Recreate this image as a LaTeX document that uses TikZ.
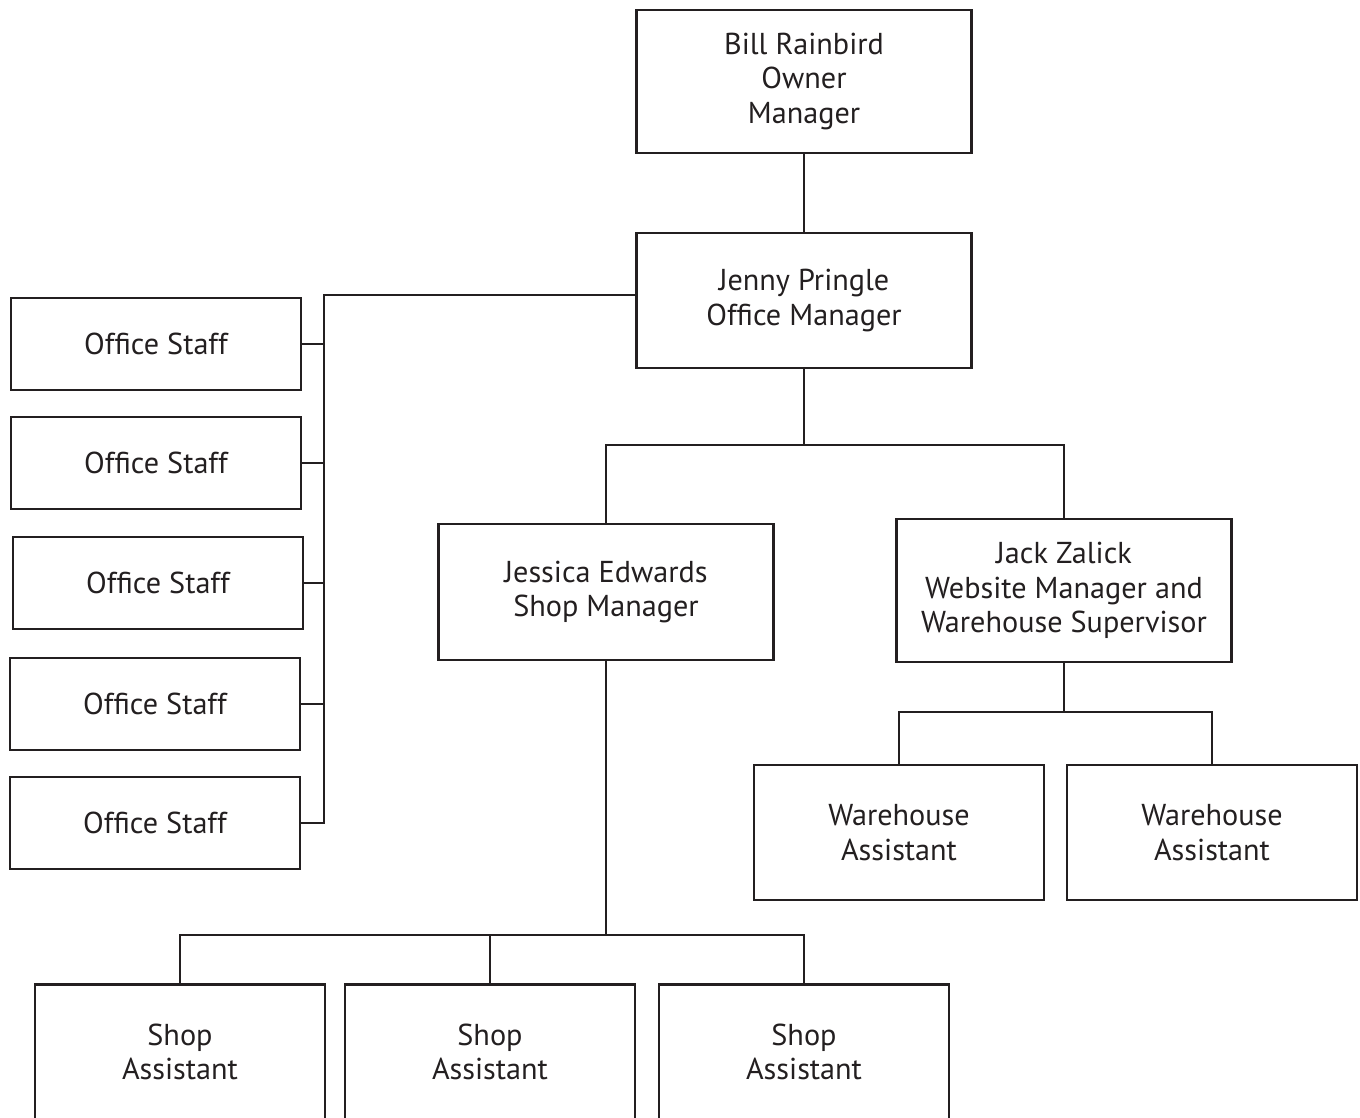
\documentclass[tikz,border=0pt]{standalone}
\usepackage{fontspec}
\setmainfont{PT Sans}
\definecolor{ink}{HTML}{231F20}
\tikzset{
  box/.style={draw=ink,line width=1.4pt,align=center,inner sep=0pt,text=ink,
    font=\fontsize{17.2}{19.8}\selectfont},
  wide/.style={box,minimum width=6.7cm},
  narrow/.style={box,minimum width=5.8cm},
  link/.style={draw=ink,line width=1.4pt},
}
\begin{document}
\begin{tikzpicture}[x=0.02cm,y=-0.02cm]
    \clip (0,0) rectangle (1360,1118);
    % managers ==============================================
    \node[wide,minimum height=2.86cm] (Bill)    at (804,81.5)  {Bill Rainbird\\Owner\\Manager};
    \node[wide,minimum height=2.7cm]  (Jenny)   at (804,300.5) {Jenny Pringle\\Office Manager};
    \node[wide,minimum height=2.72cm] (Jessica) at (606,592)   {Jessica Edwards\\Shop Manager};
    \node[wide,minimum height=2.86cm] (Jack)    at (1064,590.5) {Jack Zalick\\Website Manager and\\Warehouse Supervisor};
    % office staff ==========================================
    \node[narrow,minimum height=1.84cm] (OS1) at (156,344) {Office Staff};
    \node[narrow,minimum height=1.84cm] (OS2) at (156,463) {Office Staff};
    \node[narrow,minimum height=1.84cm] (OS3) at (158,583) {Office Staff};
    \node[narrow,minimum height=1.84cm] (OS4) at (155,704) {Office Staff};
    \node[narrow,minimum height=1.84cm] (OS5) at (155,823) {Office Staff};
    % warehouse and shop =====================================
    \node[narrow,minimum height=2.7cm] (WA1) at (899,832.5)  {Warehouse\\Assistant};
    \node[narrow,minimum height=2.7cm] (WA2) at (1212,832.5) {Warehouse\\Assistant};
    \node[narrow,minimum height=2.7cm] (SA1) at (180,1052) {Shop\\Assistant};
    \node[narrow,minimum height=2.7cm] (SA2) at (490,1052) {Shop\\Assistant};
    \node[narrow,minimum height=2.7cm] (SA3) at (804,1052) {Shop\\Assistant};
    % connectors ============================================
    \coordinate (bus)    at (324,295);
    \coordinate (jsplit) at (804,445);
    \coordinate (wsplit) at (1064,712);
    \coordinate (ssplit) at (606,935);
    \draw[link] (Bill) -- (Jenny);
    \draw[link] (Jenny.west |- bus) -- (bus) |- (OS5.east);
    \foreach \i in {1,...,4} \draw[link] (OS\i.east) -- (OS\i.east -| bus);
    \draw[link] (Jenny) -- (jsplit);
    \draw[link] (Jessica) |- (jsplit) -| (Jack);
    \draw[link] (Jack) -- (wsplit);
    \draw[link] (WA1) |- (wsplit) -| (WA2);
    \draw[link] (Jessica) -- (ssplit);
    \draw[link] (SA1) |- (ssplit) -| (SA3);
    \draw[link] (SA2) -- (SA2.north |- ssplit);
\end{tikzpicture}
\end{document}
